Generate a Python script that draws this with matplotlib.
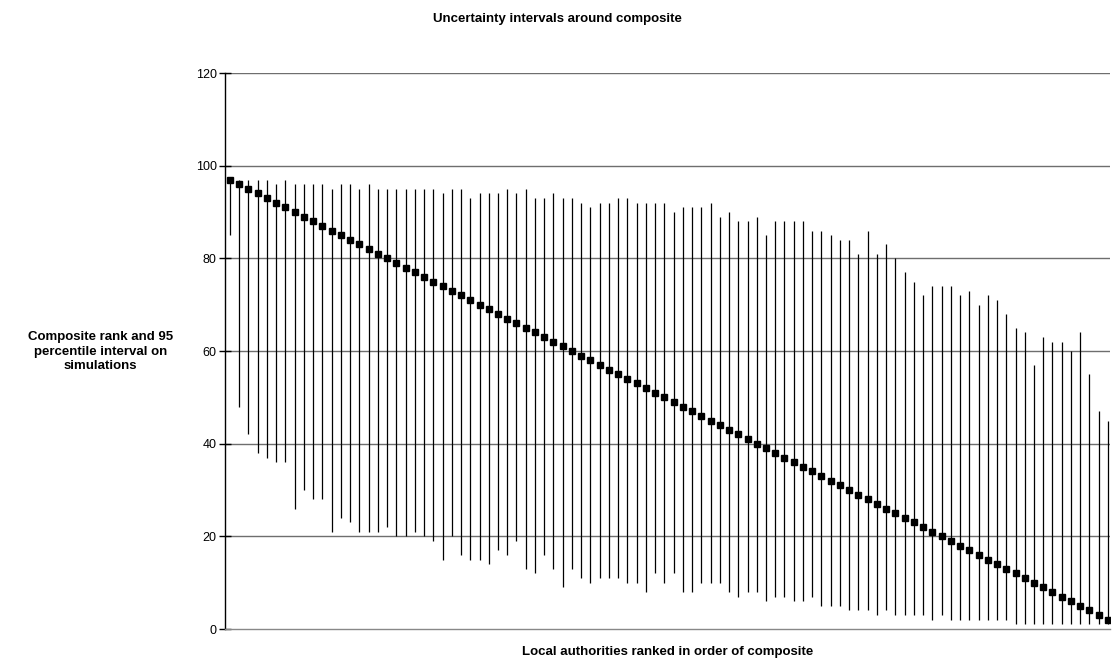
import numpy as np
import matplotlib
matplotlib.use('Agg')
from matplotlib import pyplot as plt

plt.rcParams['font.family'] = ['Liberation Sans', 'DejaVu Sans']

# composite rank of each local authority (in ranked order)
composite = list(range(97, 1, -1))

# 95 percentile interval on simulations
upper = [97, 97, 97, 97, 97, 96, 97, 96, 96, 96, 96, 95, 96, 96, 95, 96, 95, 95, 95, 95, 95, 95, 95, 94,
         95, 95, 93, 94, 94, 94, 95, 94, 95, 93, 93, 94, 93, 93, 92, 91, 92, 92, 93, 93, 92, 92, 92, 92,
         90, 91, 91, 91, 92, 89, 90, 88, 88, 89, 85, 88, 88, 88, 88, 86, 86, 85, 84, 84, 81, 86, 81, 83,
         80, 77, 75, 72, 74, 74, 74, 72, 73, 70, 72, 71, 68, 65, 64, 57, 63, 62, 62, 60, 64, 55, 47, 45]
lower = [85, 48, 42, 38, 37, 36, 36, 26, 30, 28, 28, 21, 24, 23, 21, 21, 21, 22, 20, 20, 21, 20, 19, 15,
         20, 16, 15, 15, 14, 17, 16, 19, 13, 12, 16, 13, 9, 13, 11, 10, 11, 11, 11, 10, 10, 8, 12, 10,
         12, 8, 8, 10, 10, 10, 8, 7, 8, 8, 6, 7, 7, 6, 6, 7, 5, 5, 5, 4, 4, 4, 3, 4,
         3, 3, 3, 3, 2, 3, 2, 2, 2, 2, 2, 2, 2, 1, 1, 1, 1, 1, 1, 1, 1, 1, 1, 1]

y_ticks = [0, 20, 40, 60, 80, 100, 120]

x = np.arange(len(composite))

fig = plt.figure(figsize=(11.15, 6.64), dpi=100)
ax = fig.add_axes([0.2018, 0.0527, 0.7937, 0.8373])

for yt in y_ticks[1:]:
    ax.axhline(yt, color='#6e6e6e', linewidth=1.0, zorder=1)

ax.vlines(x, lower, upper, color='black', linewidth=0.9, zorder=2)
ax.plot(x, composite, linestyle='none', marker='s', markersize=4.8,
        color='black', zorder=3)

ax.set_xlim(-0.54, len(composite) - 1 + 0.22)
ax.set_ylim(0, 120)
ax.set_yticks(y_ticks)
ax.set_xticks([])
ax.tick_params(axis='y', direction='inout', length=8, width=1, labelsize=9, pad=2)

for side in ['top', 'right']:
    ax.spines[side].set_visible(False)
ax.spines['left'].set_color('black')
ax.spines['left'].set_linewidth(1.0)
ax.spines['bottom'].set_color('#888888')
ax.spines['bottom'].set_linewidth(1.0)

fig.text(0.5, 0.9715, 'Uncertainty intervals around composite', ha='center', va='center',
         fontsize=9.5, fontweight='bold')
fig.text(0.09, 0.4705, 'Composite rank and 95\npercentile interval on\nsimulations', ha='center',
         va='center', fontsize=9.5, fontweight='bold', linespacing=1.25)
fig.text(0.599, 0.018, 'Local authorities ranked in order of composite', ha='center', va='center',
         fontsize=9.5, fontweight='bold')

fig.savefig('out.png', dpi=100)
plt.close(fig)
